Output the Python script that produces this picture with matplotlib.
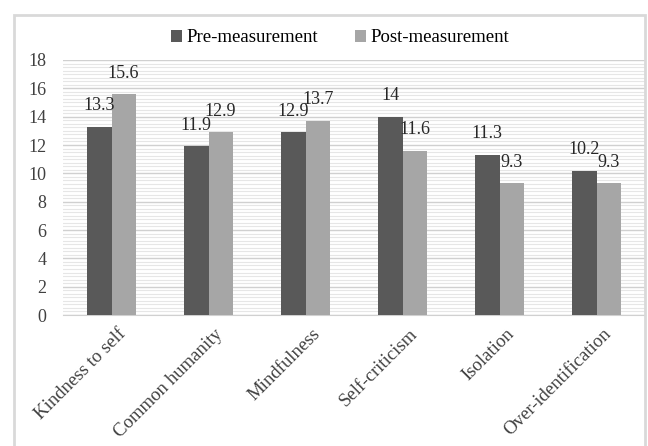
import numpy as np
import matplotlib.pyplot as plt
from matplotlib.patches import Rectangle
from matplotlib.transforms import ScaledTranslation

categories = ["Kindness to self", "Common humanity", "Mindfulness",
              "Self-criticism", "Isolation", "Over-identification"]
pre = [13.3, 11.9, 12.9, 14, 11.3, 10.2]
post = [15.6, 12.9, 13.7, 11.6, 9.3, 9.3]

plt.rcParams['font.family'] = ['Liberation Serif', 'DejaVu Serif']

fig = plt.figure(figsize=(6.48, 4.46), dpi=100)
fig.patches.append(Rectangle((14/648, -0.01), 631/648, 1.01 - 15/446, transform=fig.transFigure,
                             fill=False, edgecolor='#d9d9d9', linewidth=2))
ax = fig.add_axes([63/648, 1 - 315/446, 582/648, 255/446])

x = np.arange(len(categories))
w = 0.25
b1 = ax.bar(x - w/2, pre, w, color='#595959', label='Pre-measurement', zorder=3)
b2 = ax.bar(x + w/2, post, w, color='#a6a6a6', label='Post-measurement', zorder=3)

for bars, vals in ((b1, pre), (b2, post)):
    for r, v in zip(bars, vals):
        ax.annotate(f"{v:g}", (r.get_x() + r.get_width()/2, v), xytext=(0, 9),
                    textcoords='offset points', ha='center', va='bottom',
                    fontsize=13, color='#262626')

ax.set_xlim(-0.5, len(categories) - 0.5)
ax.set_ylim(0, 18)
ax.set_yticks(np.arange(0, 19, 2))
ax.set_yticks(np.arange(0, 18, 0.25), minor=True)
ax.grid(axis='y', which='major', color='#d0d0d0', linewidth=1, zorder=0)
ax.grid(axis='y', which='minor', color='#e6e6e6', linewidth=0.8, zorder=0)
ax.tick_params(axis='both', which='both', length=0, labelsize=13, labelcolor='#404040')
ax.tick_params(axis='y', pad=12)
ax.set_xticks(x)
ax.set_xticklabels(categories, rotation=45, ha='right', va='center', rotation_mode='anchor',
                   fontsize=13.5)
ax.tick_params(axis='x', pad=12)
shift = ScaledTranslation(12/100, 0, fig.dpi_scale_trans)
for lab in ax.get_xticklabels():
    lab.set_transform(lab.get_transform() + shift)
for s in ax.spines.values():
    s.set_visible(False)
ax.spines['bottom'].set_visible(True)
ax.spines['bottom'].set_color('#d0d0d0')

fig.legend(handles=[b1, b2], loc='center', bbox_to_anchor=(340/648, 1 - 38/446), ncol=2,
           frameon=False, fontsize=13.5, handlelength=0.6, handleheight=0.6,
           columnspacing=2.0, handletextpad=0.2)

fig.savefig('out.png', dpi=100)
